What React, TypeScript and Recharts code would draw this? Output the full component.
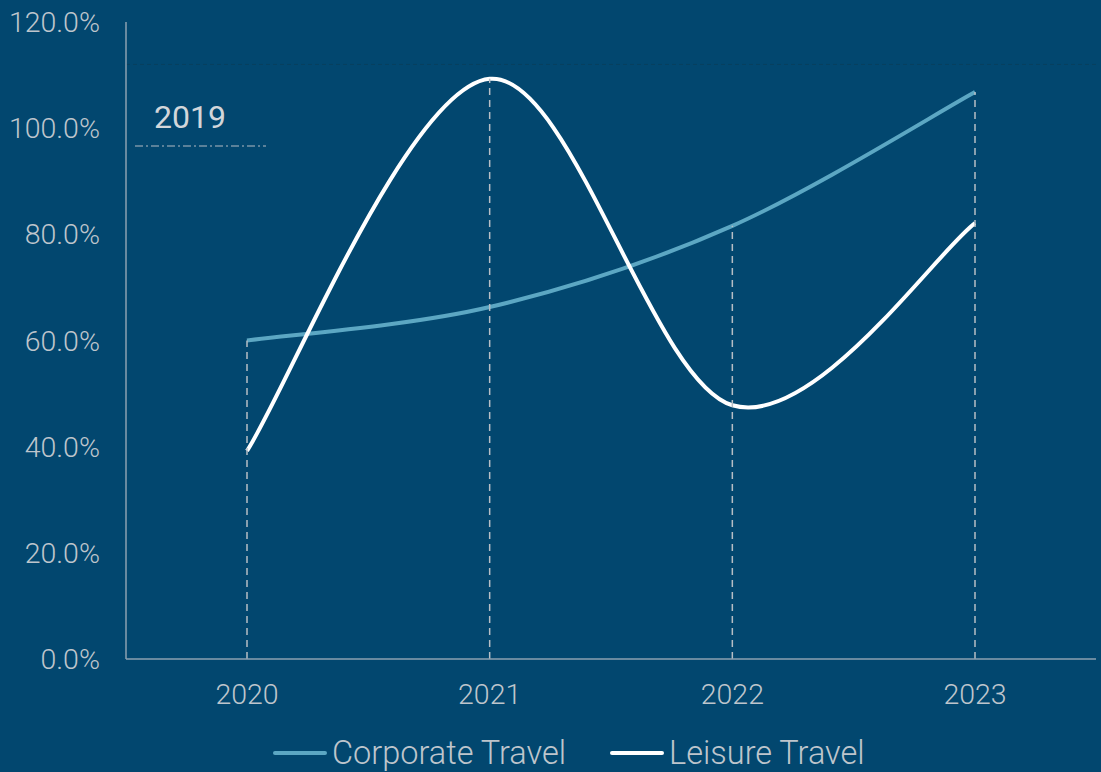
import React from 'react';
import { LineChart, Line, XAxis, YAxis, ReferenceLine } from 'recharts';

const years = ['2020', '2021', '2022', '2023'];
const corporateTravel = [60, 66.3, 81.6, 106.8];
const leisureTravel = [39.2, 109.3, 47.8, 82.1];
const yTicks = [0, 20, 40, 60, 80, 100, 120];

const data = years.map((year, i) => ({
  year,
  corporate: corporateTravel[i],
  leisure: leisureTravel[i],
}));

const BG = '#02476F';
const TEXT = '#BEC5CC';
const AXIS = '#8DA1B1';
const CORP = '#5CA7C3';

// Excel-like smoothed line (Catmull-Rom through the points)
const smoothCurve = (context: any) => {
  let pts: number[][] = [];
  return {
    areaStart() {},
    areaEnd() {},
    lineStart() { pts = []; },
    point(x: number, y: number) { pts.push([+x, +y]); },
    lineEnd() {
      if (!pts.length) return;
      context.moveTo(pts[0][0], pts[0][1]);
      for (let i = 0; i < pts.length - 1; i++) {
        const p0 = pts[i - 1] || pts[i];
        const p1 = pts[i];
        const p2 = pts[i + 1];
        const p3 = pts[i + 2] || p2;
        context.bezierCurveTo(
          p1[0] + (p2[0] - p0[0]) / 6, p1[1] + (p2[1] - p0[1]) / 6,
          p2[0] - (p3[0] - p1[0]) / 6, p2[1] - (p3[1] - p1[1]) / 6,
          p2[0], p2[1]
        );
      }
    },
  };
};

const legendItems = [
  { name: 'Corporate Travel', color: CORP },
  { name: 'Leisure Travel', color: '#FFFFFF' },
];

export default function App() {
  return (
    <div style={{ position: 'absolute', left: 0, top: 0, width: 1101, height: 772, background: BG, overflow: 'hidden' }}>
      <LineChart width={1101} height={772} data={data} margin={{ top: 22, right: 5, bottom: 83, left: 0 }}>
        <XAxis
          dataKey="year"
          height={30}
          padding={{ left: 121, right: 121 }}
          stroke={AXIS}
          strokeWidth={1.5}
          tickLine={false}
          tickMargin={19}
          tick={{ fill: TEXT, fontSize: 28.5, fontFamily: 'Roboto', fontWeight: 300 }}
        />
        <YAxis
          width={126}
          domain={[0, 120]}
          ticks={yTicks}
          interval={0}
          stroke={AXIS}
          strokeWidth={1.5}
          tickLine={false}
          tickMargin={20}
          tickFormatter={(v: number) => `${v.toFixed(1)}%`}
          tick={{ fill: TEXT, fontSize: 28.5, fontFamily: 'Roboto', fontWeight: 300 }}
        />
        <ReferenceLine y={112} stroke="#08405F" strokeDasharray="4 3" />
        <Line dataKey="corporate" name="Corporate Travel" type={smoothCurve as any} stroke={CORP} strokeWidth={4} dot={false} activeDot={false} isAnimationActive={false} />
        <Line dataKey="leisure" name="Leisure Travel" type={smoothCurve as any} stroke="#FFFFFF" strokeWidth={4} dot={false} activeDot={false} isAnimationActive={false} />
        {years.map((year, i) => (
          <ReferenceLine
            key={year}
            segment={[{ x: year, y: 0 }, { x: year, y: Math.max(corporateTravel[i], leisureTravel[i]) }]}
            stroke="#B7BEC5"
            strokeWidth={1.5}
            strokeDasharray="7 5"
          />
        ))}
      </LineChart>
      <svg style={{ position: 'absolute', left: 0, top: 0, pointerEvents: 'none' }} width={1101} height={772}>
        <text x={190} y={128} textAnchor="middle" fill="#D2D6DA" fontSize={32} fontFamily="Roboto">2019</text>
        <line x1={135} y1={146} x2={266} y2={146} stroke="#B3BBC3" strokeWidth={1.2} strokeDasharray="8 3 2 3" />
      </svg>
      <div style={{ position: 'absolute', left: 273, top: 733, display: 'flex', alignItems: 'center', fontFamily: 'Roboto', fontWeight: 300, fontSize: 32.5, lineHeight: '40px', color: TEXT, whiteSpace: 'nowrap' }}>
        {legendItems.map((item, i) => (
          <div key={item.name} style={{ display: 'flex', alignItems: 'center', marginLeft: i ? 44 : 0 }}>
            <span style={{ display: 'inline-block', width: 54, height: 4, borderRadius: 2, background: item.color, marginRight: 5 }} />
            <span>{item.name}</span>
          </div>
        ))}
      </div>
    </div>
  );
}
